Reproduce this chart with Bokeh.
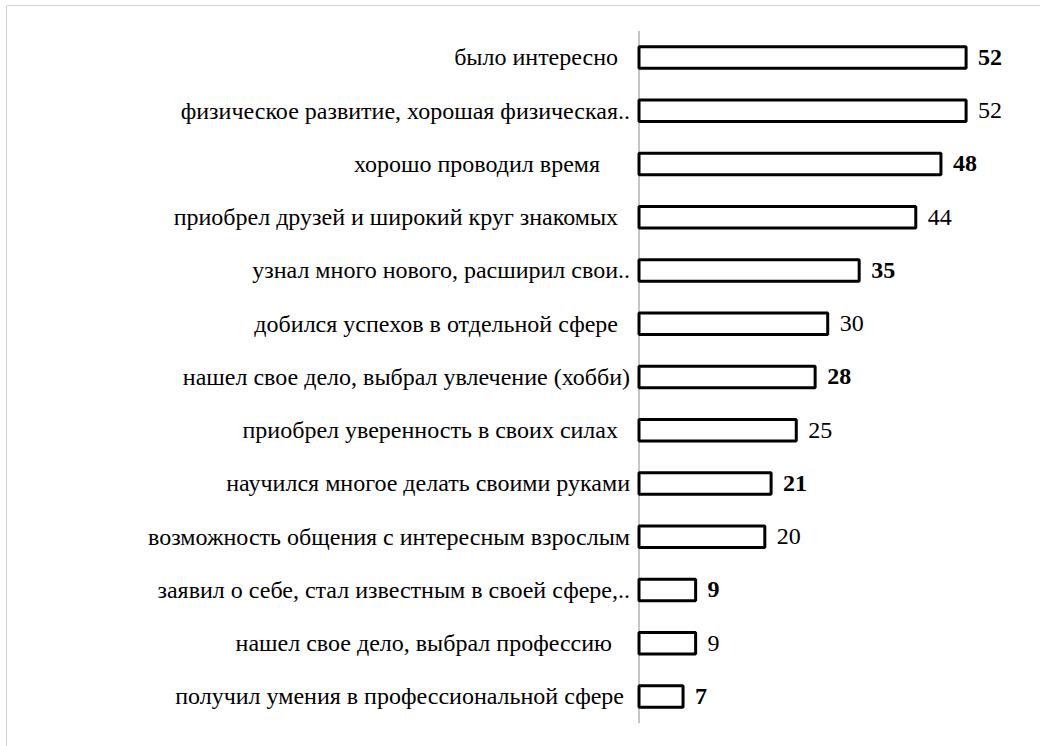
from bokeh.plotting import figure
from bokeh.models import ColumnDataSource, Range1d, Span, LabelSet
from bokeh.embed import file_html
from bokeh.resources import INLINE

NB = "\u00a0"
categories = [
    "было интересно" + NB * 2,
    "физическое развитие, хорошая физическая..",
    "хорошо проводил время" + NB * 5,
    "приобрел друзей и широкий круг знакомых" + NB * 2,
    "узнал много нового, расширил свои..",
    "добился успехов в отдельной сфере" + NB * 2,
    "нашел свое дело, выбрал увлечение (хобби)",
    "приобрел уверенность в своих силах" + NB * 2,
    "научился многое делать своими руками",
    "возможность общения с интересным взрослым",
    "заявил о себе, стал известным в своей сфере,..",
    "нашел свое дело, выбрал профессию" + NB * 3,
    "получил умения в профессиональной сфере" + NB,
]
values = [52, 52, 48, 44, 35, 30, 28, 25, 21, 20, 9, 9, 7]

n = len(categories)
pos = list(range(n))
src = ColumnDataSource(dict(cat=categories, val=values, y=pos,
                            lab=[str(v) for v in values], zero=[0] * n))
# value labels alternate bold / regular as in the reference
bold_idx = [i for i in range(n) if i % 2 == 0]
norm_idx = [i for i in range(n) if i % 2 == 1]
src_bold = ColumnDataSource(dict(val=[values[i] for i in bold_idx], y=[pos[i] for i in bold_idx],
                                 lab=[str(values[i]) for i in bold_idx]))
src_norm = ColumnDataSource(dict(val=[values[i] for i in norm_idx], y=[pos[i] for i in norm_idx],
                                 lab=[str(values[i]) for i in norm_idx]))

FONT = "Liberation Serif"
FS = "24px"

xr = Range1d(-100.56, 63.83)
yr = Range1d(12.939, -0.9765)
p = figure(width=1040, height=746, output_backend="svg", toolbar_location=None,
           x_range=xr, y_range=yr,
           min_border_left=6, min_border_top=5, min_border_right=0, min_border_bottom=0)
p.axis.visible = False
p.grid.visible = False
p.outline_line_color = None
p.background_fill_color = "white"
p.border_fill_color = "white"

# chart border (left and top edges only visible in the reference)
p.add_layout(Span(location=xr.start, dimension="height", line_color="#a6a6a6", line_width=1))
p.add_layout(Span(location=yr.end, dimension="width", line_color="#a6a6a6", line_width=1))

# vertical category axis line
p.segment(x0=[0], y0=[-0.5], x1=[0], y1=[n - 0.5], line_color="#8c8c8c", line_width=1)

p.hbar(y="y", left="zero", right="val", height=0.40, source=src,
       fill_color="white", line_color="black", line_width=3)

p.add_layout(LabelSet(x="zero", y="y", text="cat", source=src, x_offset=-9,
                      text_align="right", text_baseline="middle", text_font=FONT,
                      text_font_size=FS, text_color="#000000"))

p.add_layout(LabelSet(x="val", y="y", text="lab", source=src_bold, x_offset=12,
                      text_align="left", text_baseline="middle", text_font=FONT,
                      text_font_size=FS, text_font_style="bold", text_color="#000000"))
p.add_layout(LabelSet(x="val", y="y", text="lab", source=src_norm, x_offset=12,
                      text_align="left", text_baseline="middle", text_font=FONT,
                      text_font_size=FS, text_font_style="normal", text_color="#000000"))

open("out.html", "w").write(file_html(p, INLINE))
